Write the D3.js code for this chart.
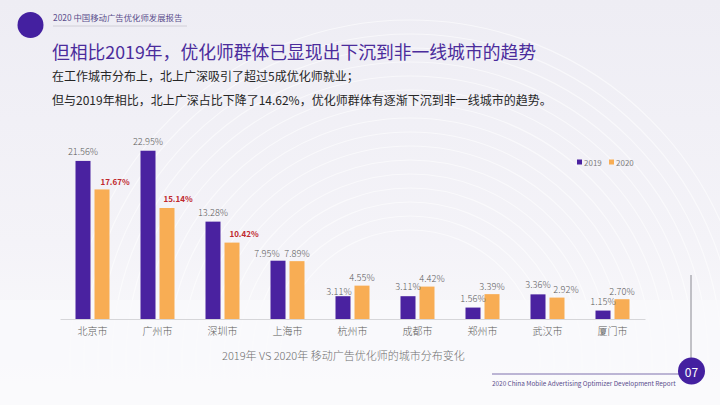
<!DOCTYPE html>
<html><head><meta charset="utf-8">
<script src="https://cdn.jsdelivr.net/npm/d3@7"></script>
<style>
html,body{margin:0;padding:0;background:#f2f1f6;}
svg{display:block;font-family:"Noto Sans CJK SC","Noto Sans",sans-serif;}
</style></head>
<body>
<svg id="c" width="720" height="405"></svg>
<script>
// ---- data ----
const cities = ["北京市","广州市","深圳市","上海市","杭州市","成都市","郑州市","武汉市","厦门市"];
const series = ["2019","2020"];
const values2019 = [21.56, 22.95, 13.28, 7.95, 3.11, 3.11, 1.56, 3.36, 1.15];
const values2020 = [17.67, 15.14, 10.42, 7.89, 4.55, 4.42, 3.39, 2.92, 2.70];
const highlight2020 = [true, true, true, false, false, false, false, false, false];
// label nudges (layout only)
const labelDx2019 = [0,0,0,-11,-4,0,0,0,0];
const labelDx2020 = [13,11,12,0,0,5,0,9,0];
const labelDy2019 = [-10,-10,-10,-8,-5,-10,-10,-10,-10];
const labelDy2020 = [-8,-9,-9,-8,-9,-9,-8,-9,-8];

const headerText = "2020 中国移动广告优化师发展报告";
const titleText = "但相比2019年，优化师群体已显现出下沉到非一线城市的趋势";
const subLines = ["在工作城市分布上，北上广深吸引了超过5成优化师就业；",
  "但与2019年相比，北上广深占比下降了14.62%，优化师群体有逐渐下沉到非一线城市的趋势。"];
const captionText = "2019年 VS 2020年 移动广告优化师的城市分布变化";
const footerText = "2020 China Mobile Advertising Optimizer Development Report";
const pageNo = "07";

const colors = {"2019":"#4a22a0","2020":"#f8ad54"};

const svg = d3.select("#c");

// background
const defs = svg.append("defs");
const lg = defs.append("linearGradient").attr("id","bg").attr("x1",0).attr("y1",0).attr("x2",0).attr("y2",1);
lg.append("stop").attr("offset","0%").attr("stop-color","#eeedf4");
lg.append("stop").attr("offset","60%").attr("stop-color","#f4f3f8");
lg.append("stop").attr("offset","100%").attr("stop-color","#fbfbfc");
svg.append("rect").attr("width",720).attr("height",405).attr("fill","url(#bg)");
// faint concentric arcs
const arcs = svg.append("g");
d3.range(0,16).forEach(i=>{
  arcs.append("circle").attr("cx",410).attr("cy",360).attr("r",130+i*14)
    .attr("fill","none").attr("stroke","#ffffff").attr("stroke-opacity",0.55).attr("stroke-width",1.2);
});
svg.append("rect").attr("x",0).attr("y",300).attr("width",720).attr("height",105).attr("fill","#f9f9fb").attr("opacity",0.85);

// header
svg.append("circle").attr("cx",30.5).attr("cy",25).attr("r",13).attr("fill","#4420a0");
svg.append("text").attr("x",53).attr("y",17).attr("dominant-baseline","central")
  .attr("font-size",8.4).attr("fill","#5b4e8c").text(headerText);
svg.append("line").attr("x1",53).attr("x2",187).attr("y1",26).attr("y2",26)
  .attr("stroke","#c9c6cf").attr("stroke-width",0.8);

// title
svg.append("text").attr("x",52).attr("y",51).attr("dominant-baseline","central")
  .attr("font-size",17.8).attr("fill","#4b2c9c").text(titleText);
subLines.forEach((s,i)=>{
  svg.append("text").attr("x",52).attr("y",75+i*24).attr("dominant-baseline","central")
    .attr("font-size",12).attr("fill","#262626").text(s);
});

// chart
const x0 = d3.scaleBand().domain(cities).range([60,645]).paddingInner(0).paddingOuter(0);
const x1 = d3.scaleBand().domain(series).range([15.5,49.5]).paddingInner(4/19);
const y = d3.scaleLinear().domain([0,25]).range([319,135.7]);

const rows = cities.map((c,i)=>({city:c, i, vals:[
  {s:"2019", v:values2019[i], dx:labelDx2019[i], dy:labelDy2019[i], hl:false},
  {s:"2020", v:values2020[i], dx:labelDx2020[i], dy:labelDy2020[i], hl:highlight2020[i]}
]}));

const g = svg.append("g");
const grp = g.selectAll("g.cat").data(rows).join("g").attr("class","cat")
  .attr("transform",d=>`translate(${x0(d.city)},0)`);
grp.selectAll("rect").data(d=>d.vals).join("rect")
  .attr("x",d=>x1(d.s)).attr("width",x1.bandwidth())
  .attr("y",d=>y(d.v)).attr("height",d=>y(0)-y(d.v))
  .attr("fill",d=>colors[d.s]);
grp.selectAll("text.lbl").data(d=>d.vals).join("text").attr("class","lbl")
  .attr("x",d=>x1(d.s)+x1.bandwidth()/2+d.dx)
  .attr("y",d=>y(d.v)+d.dy)
  .attr("text-anchor","middle").attr("dominant-baseline","central")
  .attr("font-size",d=>d.hl?8:9.2)
  .attr("font-weight",d=>d.hl?700:300)
  .attr("fill",d=>d.hl?"#c0282d":"#595959")
  .text(d=>d.v.toFixed(2)+"%");

// axis
const xAxis = d3.axisBottom(x0).tickSize(0).tickPadding(9);
const ax = svg.append("g").attr("transform",`translate(0,${y(0)})`).call(xAxis);
ax.select(".domain").attr("stroke","#d6d6d9").attr("stroke-width",1);
ax.selectAll("text").attr("font-size",10).attr("fill","#595959")
  .attr("font-family","'Noto Sans CJK SC',sans-serif").attr("font-weight",300);

// legend
const leg = svg.append("g").attr("transform","translate(577,162)");
series.forEach((s,i)=>{
  const lx = i*32;
  leg.append("rect").attr("x",lx).attr("y",-2.5).attr("width",5).attr("height",5).attr("fill",colors[s]);
  leg.append("text").attr("x",lx+7).attr("y",0).attr("dominant-baseline","central")
    .attr("font-size",8).attr("fill","#7f7f7f").text(s);
});

// caption
svg.append("text").attr("x",222).attr("y",355).attr("dominant-baseline","central")
  .attr("font-size",11).attr("fill","#6f6f6f").attr("font-weight",300).text(captionText);

// footer
svg.append("line").attr("x1",691).attr("x2",691).attr("y1",275).attr("y2",360)
  .attr("stroke","#8a8a92").attr("stroke-width",1);
svg.append("line").attr("x1",492).attr("x2",680).attr("y1",374).attr("y2",374)
  .attr("stroke","#7f70ad").attr("stroke-width",1);
svg.append("circle").attr("cx",691.5).attr("cy",371).attr("r",13.5).attr("fill","#4420a0");
svg.append("text").attr("x",691.5).attr("y",371.5).attr("text-anchor","middle").attr("dominant-baseline","central")
  .attr("font-size",12).attr("fill","#ffffff").text(pageNo);
svg.append("text").attr("x",492).attr("y",383).attr("dominant-baseline","central")
  .attr("font-size",6.4).attr("fill","#5b4e8c").text(footerText);
</script>
</body></html>
